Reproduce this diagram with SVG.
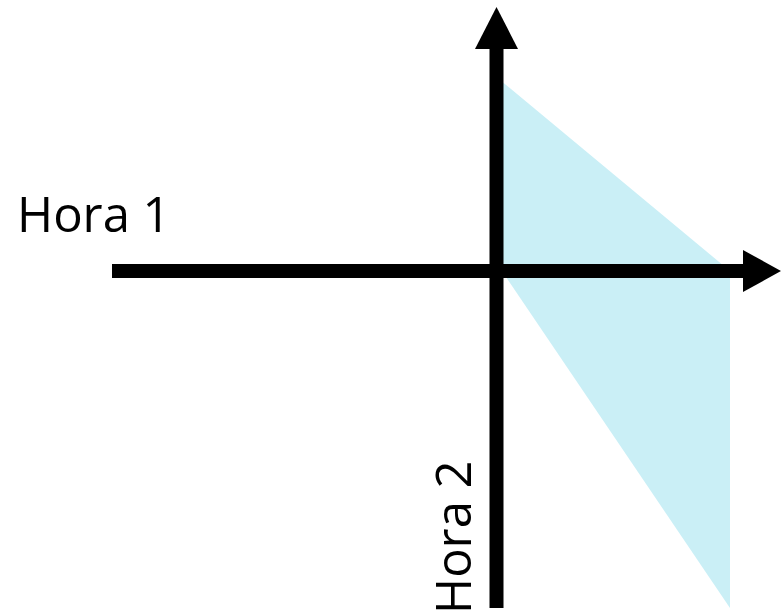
<svg xmlns="http://www.w3.org/2000/svg" width="781" height="616" viewBox="0 0 781 616">
<style>
.lbl{font-family:"Open Sans","Noto Sans",sans-serif;font-size:49px;fill:#000}
.ax{stroke:#000;stroke-width:14;fill:none}
</style>
<rect width="781" height="616" fill="#fff"/>
<g id="region"><polygon points="496.5,77 730,271 730,608 496.5,263" fill="#caeff6"/></g>
<g id="connectors">
<line class="ax" x1="112" y1="271" x2="745" y2="271"/>
<polygon points="743,250 781,271 743,292"/>
<line class="ax" x1="496.5" y1="608" x2="496.5" y2="47"/>
<polygon points="475,49 496.5,7 518,49"/>
</g>
<g id="hora1"><text class="lbl" x="17" y="232">Hora 1</text></g>
<g id="hora2"><text class="lbl" transform="translate(471,614) rotate(-90)">Hora 2</text></g>
</svg>
